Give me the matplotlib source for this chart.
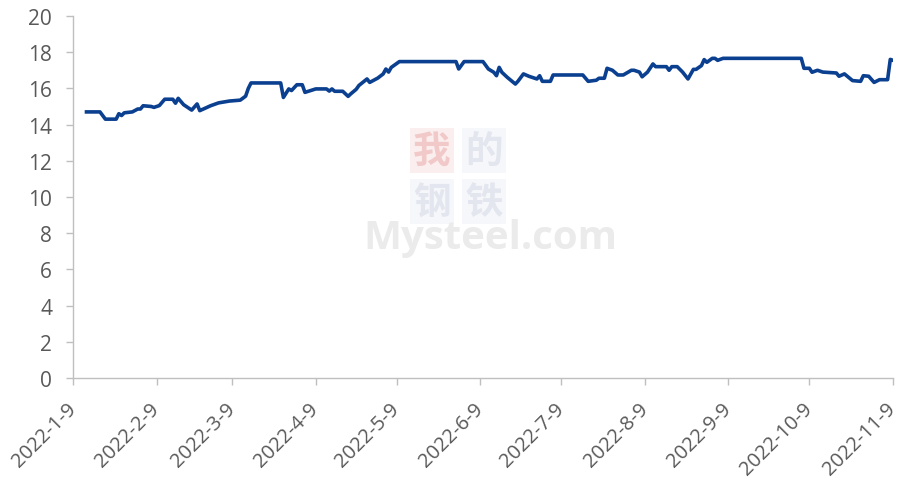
import numpy as np
import pandas as pd
import matplotlib
matplotlib.use("Agg")
import matplotlib.pyplot as plt

plt.rcParams['font.family'] = ['Open Sans', 'Noto Sans CJK SC', 'DejaVu Sans']

# values
dates = [
    "2022-01-14", "2022-01-19", "2022-01-21", "2022-01-25", "2022-01-26", "2022-01-27",
    "2022-01-28", "2022-01-31", "2022-02-02", "2022-02-03", "2022-02-04", "2022-02-07",
    "2022-02-08", "2022-02-10", "2022-02-12", "2022-02-15", "2022-02-16", "2022-02-17",
    "2022-02-19", "2022-02-22", "2022-02-24", "2022-02-25", "2022-03-01", "2022-03-04",
    "2022-03-08", "2022-03-12", "2022-03-14", "2022-03-15", "2022-03-16", "2022-03-27",
    "2022-03-28", "2022-03-30", "2022-03-31", "2022-04-02", "2022-04-04", "2022-04-05",
    "2022-04-09", "2022-04-13", "2022-04-14", "2022-04-15", "2022-04-16", "2022-04-19",
    "2022-04-21", "2022-04-22", "2022-04-24", "2022-04-25", "2022-04-28", "2022-04-29",
    "2022-05-02", "2022-05-04", "2022-05-05", "2022-05-06", "2022-05-07", "2022-05-10",
    "2022-05-31", "2022-06-01", "2022-06-03", "2022-06-10", "2022-06-12", "2022-06-14",
    "2022-06-15", "2022-06-16", "2022-06-17", "2022-06-19", "2022-06-22", "2022-06-23",
    "2022-06-25", "2022-06-27", "2022-06-30", "2022-07-01", "2022-07-02", "2022-07-05",
    "2022-07-06", "2022-07-17", "2022-07-19", "2022-07-22", "2022-07-23", "2022-07-25",
    "2022-07-26", "2022-07-28", "2022-07-30", "2022-08-01", "2022-08-04", "2022-08-05",
    "2022-08-07", "2022-08-08", "2022-08-10", "2022-08-12", "2022-08-13", "2022-08-17",
    "2022-08-18", "2022-08-19", "2022-08-21", "2022-08-23", "2022-08-25", "2022-08-27",
    "2022-08-28", "2022-08-30", "2022-08-31", "2022-09-01", "2022-09-03", "2022-09-04",
    "2022-09-05", "2022-09-07", "2022-10-06", "2022-10-07", "2022-10-09", "2022-10-10",
    "2022-10-12", "2022-10-14", "2022-10-19", "2022-10-20", "2022-10-22", "2022-10-25",
    "2022-10-28", "2022-10-29", "2022-10-31", "2022-11-02", "2022-11-04", "2022-11-07",
    "2022-11-08", "2022-11-09",
]
values = [
    14.70, 14.70, 14.30, 14.30, 14.60, 14.50,
    14.65, 14.70, 14.86, 14.86, 15.04, 15.00,
    14.95, 15.05, 15.40, 15.40, 15.18, 15.45,
    15.10, 14.80, 15.14, 14.77, 15.04, 15.20,
    15.30, 15.35, 15.57, 16.00, 16.30, 16.30,
    15.50, 15.97, 15.88, 16.20, 16.20, 15.78,
    15.97, 15.97, 15.85, 15.97, 15.84, 15.84,
    15.56, 15.70, 15.95, 16.16, 16.52, 16.33,
    16.57, 16.80, 17.07, 16.90, 17.16, 17.48,
    17.48, 17.07, 17.48, 17.48, 17.07, 16.89,
    16.70, 17.16, 16.89, 16.61, 16.24, 16.40,
    16.80, 16.67, 16.52, 16.70, 16.39, 16.39,
    16.74, 16.74, 16.39, 16.45, 16.56, 16.56,
    17.11, 17.00, 16.74, 16.74, 17.00, 17.00,
    16.90, 16.64, 16.90, 17.35, 17.20, 17.20,
    17.00, 17.20, 17.20, 16.90, 16.52, 17.05,
    17.05, 17.26, 17.59, 17.44, 17.66, 17.66,
    17.55, 17.66, 17.66, 17.11, 17.11, 16.89,
    17.00, 16.90, 16.85, 16.67, 16.80, 16.43,
    16.39, 16.70, 16.67, 16.33, 16.48, 16.48,
    17.60, 17.55,
]
tick_dates = ["2022-01-09", "2022-02-09", "2022-03-09", "2022-04-09", "2022-05-09",
              "2022-06-09", "2022-07-09", "2022-08-09", "2022-09-09", "2022-10-09",
              "2022-11-09"]
tick_labels = ["2022-1-9", "2022-2-9", "2022-3-9", "2022-4-9", "2022-5-9", "2022-6-9",
               "2022-7-9", "2022-8-9", "2022-9-9", "2022-10-9", "2022-11-9"]

x = pd.to_datetime(dates)
ticks = pd.to_datetime(tick_dates)

fig = plt.figure(figsize=(8.99, 4.81), dpi=100)
ax = fig.add_axes([0.0812, 0.2121, 0.9121, 0.7526])
ax.patch.set_alpha(0)

# faint Mysteel watermark behind the plot
wm = dict(fontsize=27, ha="center", va="center", family=['Noto Sans CJK SC'],
          fontweight="bold", zorder=0)
box = dict(boxstyle="square,pad=0.08", ec="none")
fig.text(0.4805, 0.686, "我", color="#f2c9c9", bbox=dict(fc="#fbeeee", **box), **wm)
fig.text(0.5384, 0.686, "的", color="#e3e6ee", bbox=dict(fc="#f6f7fa", **box), **wm)
fig.text(0.4805, 0.578, "钢", color="#e3e6ee", bbox=dict(fc="#f6f7fa", **box), **wm)
fig.text(0.5384, 0.578, "铁", color="#e3e6ee", bbox=dict(fc="#f6f7fa", **box), **wm)
fig.text(0.545, 0.505, "Mysteel.com", color="#ebebeb", fontsize=29,
         ha="center", va="center", fontweight="bold", zorder=0)

ax.plot(x, values, color="#0b3f8f", linewidth=2.6, solid_joinstyle="round")

ax.set_xlim(ticks[0], ticks[-1])
ax.set_ylim(0, 20)
ax.set_yticks(np.arange(0, 21, 2))
ax.set_xticks(ticks)
ax.set_xticklabels(tick_labels, rotation=45, ha="right", va="center",
                   rotation_mode="anchor", fontsize=14.5)

for side in ["top", "right"]:
    ax.spines[side].set_visible(False)
for side in ["left", "bottom"]:
    ax.spines[side].set_color("#bfbfbf")
    ax.spines[side].set_linewidth(1.0)

ax.tick_params(axis="both", colors="#bfbfbf", labelcolor="#595959", labelsize=15,
               length=5, width=1.0, direction="out")
ax.tick_params(axis="x", pad=15, labelsize=14.5)
ax.tick_params(axis="y", pad=10)

fig.savefig("out.png", dpi=100)
